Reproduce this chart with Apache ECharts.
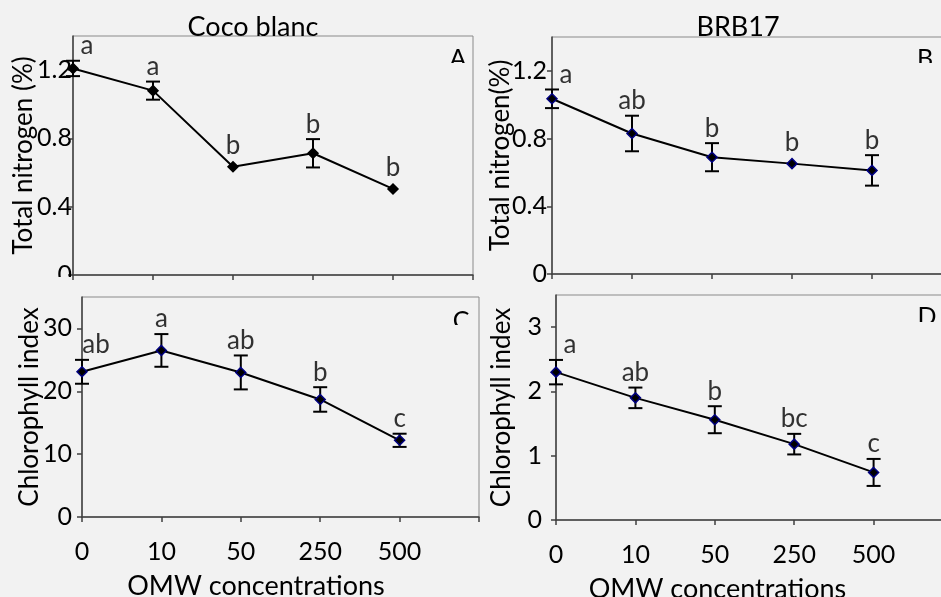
<!DOCTYPE html>
<html>
<head>
<meta charset="utf-8">
<script src="https://cdn.jsdelivr.net/npm/echarts@6/dist/echarts.min.js"></script>
<style>
  html, body { margin: 0; padding: 0; background: #f2f2f2; }
  #chart { width: 941px; height: 597px; }
</style>
</head>
<body>
<div id="chart"></div>
<script>
// OMW concentrations (last slot is empty, like the original layout)
var categories = ['0', '10', '50', '250', '500', ''];

// A - total nitrogen, Coco blanc
var nitroCoco = [1.21, 1.08, 0.634, 0.713, 0.504];
var nitroCocoErr = [0.045, 0.053, 0, 0.083, 0];
var nitroCocoLetters = ['a', 'a', 'b', 'b', 'b'];

// B - total nitrogen, BRB17
var nitroBrb = [1.035, 0.83, 0.69, 0.652, 0.612];
var nitroBrbErr = [0.055, 0.105, 0.083, 0, 0.09];
var nitroBrbLetters = ['a', 'ab', 'b', 'b', 'b'];

// C - chlorophyll index, Coco blanc
var chlCoco = [23.1, 26.5, 23.0, 18.7, 12.2];
var chlCocoErr = [1.9, 2.6, 2.7, 1.95, 1.05];
var chlCocoLetters = ['ab', 'a', 'ab', 'b', 'c'];

// D - chlorophyll index, BRB17
var chlBrb = [2.30, 1.90, 1.56, 1.18, 0.74];
var chlBrbErr = [0.19, 0.16, 0.21, 0.16, 0.21];
var chlBrbLetters = ['a', 'ab', 'b', 'bc', 'c'];

var FONT = 'Lato';
var AXIS_DARK = '#404040';

var panels = [
    {vals: nitroCoco, err: nitroCocoErr, letters: nitroCocoLetters, max: 1.4, interval: 0.4,
     yName: 'Total nitrogen (%)', nameGap: 36, labelMargin: 1, xLabels: false, xNamePad: 0, border: '#000'},
    {vals: nitroBrb, err: nitroBrbErr, letters: nitroBrbLetters, max: 1.4, interval: 0.4,
     yName: 'Total nitrogen(%)', nameGap: 38, labelMargin: 5, xLabels: false, xNamePad: 0, border: '#000080'},
    {vals: chlCoco, err: chlCocoErr, letters: chlCocoLetters, max: 35, interval: 10,
     yName: 'Chlorophyll index', nameGap: 39, labelMargin: 10, xLabels: true, xNamePad: 49, border: '#000080'},
    {vals: chlBrb, err: chlBrbErr, letters: chlBrbLetters, max: 3.5, interval: 1,
     yName: 'Chlorophyll index', nameGap: 41, labelMargin: 14, xLabels: true, xNamePad: 74, border: '#000080'}
];

var grids = [
    {left: 73, top: 36, width: 400, height: 239},
    {left: 552, top: 37, width: 400, height: 237},
    {left: 82, top: 297, width: 397, height: 220},
    {left: 556, top: 295, width: 397, height: 225}
];

function renderErr(params, api) {
    var i = api.value(0), v = api.value(1), e = api.value(2);
    if (!e) return null;
    var hi = api.coord([i, v + e]);
    var lo = api.coord([i, v - e]);
    var w = 7;
    var st = {stroke: '#000', lineWidth: 2};
    return {
        type: 'group',
        children: [
            {type: 'line', shape: {x1: hi[0], y1: hi[1], x2: lo[0], y2: lo[1]}, style: st},
            {type: 'line', shape: {x1: hi[0] - w, y1: hi[1], x2: hi[0] + w, y2: hi[1]}, style: st},
            {type: 'line', shape: {x1: lo[0] - w, y1: lo[1], x2: lo[0] + w, y2: lo[1]}, style: st}
        ]
    };
}

var xAxes = [], yAxes = [], series = [];
panels.forEach(function (p, k) {
    grids[k].show = true;
    grids[k].borderColor = '#8a8a8a';
    grids[k].borderWidth = 1;
    grids[k].backgroundColor = 'transparent';
    grids[k].outerBoundsMode = 'none';
    grids[k].containLabel = false;

    xAxes.push({
        gridIndex: k,
        type: 'category',
        data: categories,
        boundaryGap: false,
        axisLine: {lineStyle: {color: AXIS_DARK, width: 1.5}},
        axisTick: {show: true, length: 5, alignWithLabel: true, lineStyle: {color: AXIS_DARK, width: 1.5}},
        axisLabel: {show: p.xLabels, interval: 0, margin: 22, fontFamily: FONT, fontSize: 25, color: '#000'},
        splitLine: {show: false},
        name: p.xLabels ? 'OMW concentrations' : '',
        nameLocation: 'middle',
        nameGap: 56,
        nameMoveOverlap: false,
        // right padding pulls the centred name a bit to the left, as in the original
        nameTextStyle: {fontFamily: FONT, fontSize: 27, color: '#000', lineHeight: 26,
            padding: [0, p.xNamePad, 0, 0]}
    });
    yAxes.push({
        gridIndex: k,
        type: 'value',
        min: 0,
        max: p.max,
        interval: p.interval,
        axisLine: {show: true, lineStyle: {color: AXIS_DARK, width: 1.5}},
        axisTick: {show: true, length: 5, lineStyle: {color: AXIS_DARK, width: 1.5}},
        axisLabel: {showMaxLabel: false, margin: p.labelMargin, fontFamily: FONT, fontSize: 25, color: '#000'},
        splitLine: {show: false},
        name: p.yName,
        nameLocation: 'middle',
        nameGap: p.nameGap,
        nameMoveOverlap: false,
        nameTextStyle: {fontFamily: FONT, fontSize: 26, color: '#000', lineHeight: 26}
    });

    // error bars
    series.push({
        type: 'custom',
        xAxisIndex: k, yAxisIndex: k,
        renderItem: renderErr,
        encode: {x: 0, y: 1},
        z: 2,
        silent: true,
        data: p.vals.map(function (v, i) { return [i, v, p.err[i]]; })
    });
    // the means
    series.push({
        type: 'line',
        xAxisIndex: k, yAxisIndex: k,
        data: p.vals,
        symbol: 'diamond',
        symbolSize: 10,
        showAllSymbol: true,
        z: 3,
        lineStyle: {color: '#000', width: 2},
        itemStyle: {color: '#000', borderColor: p.border, borderWidth: 1.5},
        animation: false
    });
    // significance letters, sitting on top of the error bars
    series.push({
        type: 'scatter',
        xAxisIndex: k, yAxisIndex: k,
        symbolSize: 0,
        z: 4,
        silent: true,
        data: p.vals.map(function (v, i) {
            return {
                value: [i, v + p.err[i]],
                label: {
                    distance: p.err[i] ? 2 : 8,
                    offset: i === 0 ? [14, 0] : [0, 0]
                }
            };
        }),
        label: {
            show: true,
            position: 'top',
            fontFamily: FONT,
            fontSize: 26,
            color: '#000',
            formatter: function (prm) { return p.letters[prm.dataIndex]; }
        }
    });
});

function txt(t, x, y, size) {
    return {type: 'text', x: x, y: y, z: 10,
        style: {text: t, font: size + 'px ' + FONT, fill: '#000', align: 'center', verticalAlign: 'middle'}};
}
function cover(x, y, w, h) {
    return {type: 'rect', z: 20, shape: {x: x, y: y, width: w, height: h}, style: {fill: '#f2f2f2'}};
}

var myChart = echarts.init(document.getElementById('chart'));
var option = {
    backgroundColor: '#f2f2f2',
    animation: false,
    grid: grids,
    xAxis: xAxes,
    yAxis: yAxes,
    series: series,
    graphic: [
        txt('Coco blanc', 253, 27, 27),
        txt('BRB17', 738, 27, 27),
        // panel letters, only their upper part shows in the original
        txt('A', 458, 59, 25), cover(445, 63, 26, 14),
        txt('B', 925, 59, 25), cover(912, 63, 26, 14),
        txt('C', 461, 321, 25), cover(448, 325, 28, 14),
        txt('D', 927, 317, 25), cover(914, 322, 26, 14),
        // zero label of panel A is cut off as well
        cover(35, 277, 36, 14)
    ]
};
myChart.setOption(option);
window.onresize = myChart.resize;
</script>
</body>
</html>
